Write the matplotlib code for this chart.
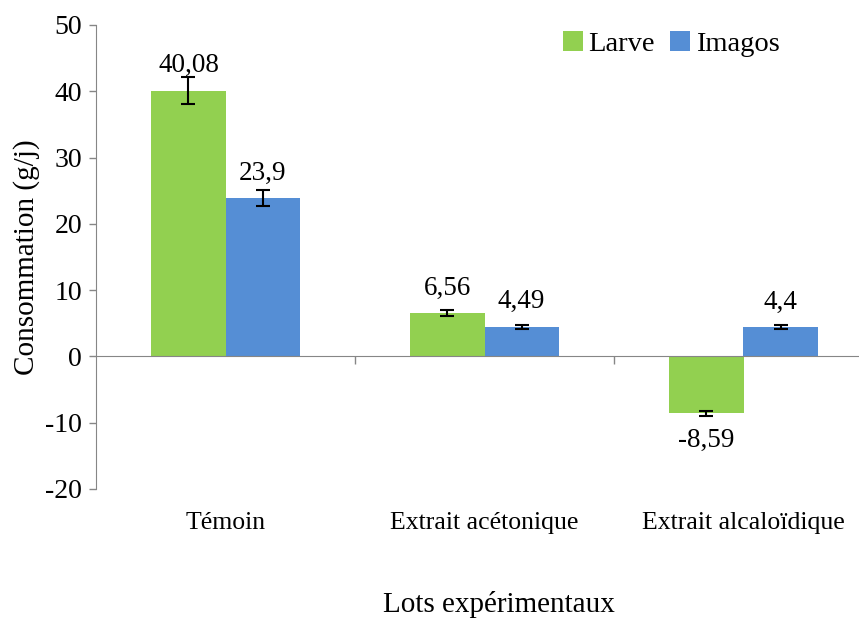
import matplotlib
matplotlib.use("Agg")
import matplotlib.pyplot as plt
import numpy as np
from matplotlib.transforms import blended_transform_factory

plt.rcParams['font.family'] = ['Liberation Serif', 'DejaVu Serif']

categories = ["Témoin", "Extrait acétonique", "Extrait alcaloïdique"]
series = ["Larve", "Imagos"]
larve = [40.08, 6.56, -8.59]
imagos = [23.9, 4.49, 4.4]
larve_err = [2.0, 0.4, 0.4]
imagos_err = [1.2, 0.3, 0.3]
larve_labels = ["40,08", "6,56", "-8,59"]
imagos_labels = ["23,9", "4,49", "4,4"]
yticks = [-20, -10, 0, 10, 20, 30, 40, 50]

green = "#92D050"
blue = "#558ED5"
grey = "#868686"

fig = plt.figure(figsize=(8.59, 6.19), dpi=100)
ax = fig.add_axes([96 / 859, 130 / 619, 777 / 859, 464 / 619])

x = np.arange(len(categories))
w = 0.286
ax.bar(x - w / 2, larve, w, color=green, label=series[0], zorder=2)
ax.bar(x + w / 2, imagos, w, color=blue, label=series[1], zorder=2)
ax.errorbar(x - w / 2, larve, yerr=larve_err, fmt="none", ecolor="black",
            elinewidth=1.5, capsize=5, capthick=1.5, zorder=3)
ax.errorbar(x + w / 2, imagos, yerr=imagos_err, fmt="none", ecolor="black",
            elinewidth=1.5, capsize=5, capthick=1.5, zorder=3)

for xs, vals, labs in [(x - w / 2, larve, larve_labels), (x + w / 2, imagos, imagos_labels)]:
    for xi, v, lab in zip(xs, vals, labs):
        off = 25 if v >= 0 else -27
        ax.annotate(lab, (xi, v), xytext=(0, off), textcoords="offset pixels",
                    ha="center", va="center", fontsize=19.5)

ax.set_xlim(-0.5, 2.5)
ax.set_ylim(-20, 50)
ax.set_yticks(yticks)
ax.set_yticklabels([str(t) for t in yticks], fontsize=20)

ax.spines['top'].set_visible(False)
ax.spines['right'].set_visible(False)
ax.spines['left'].set_color(grey)
ax.spines['bottom'].set_color(grey)
ax.spines['bottom'].set_position(('data', 0))
ax.spines['bottom'].set_zorder(4)
ax.set_xticks([0.5, 1.5, 2.5])
ax.set_xticklabels([])
ax.tick_params(axis='x', direction='out', length=6, color=grey, width=1)
ax.tick_params(axis='y', direction='out', length=5, color=grey, width=1, pad=5)

trans = blended_transform_factory(ax.transData, ax.transAxes)
for xi, c in zip(x, categories):
    ax.text(xi, -0.073, c, transform=trans, ha="center", va="center", fontsize=18.5)

ax.set_ylabel("Consommation (g/j)", fontsize=21, labelpad=4)
fig.text(499 / 859, 1 - 605 / 619, "Lots expérimentaux",
         ha="center", va="center", fontsize=21)

ax.legend(loc="upper left", bbox_to_anchor=(0.586, 1.012), ncol=2, frameon=False,
          fontsize=20.5, handlelength=0.7, handleheight=0.7, handletextpad=0.2,
          columnspacing=0.55, borderaxespad=0)

fig.savefig("out.png", dpi=100)
